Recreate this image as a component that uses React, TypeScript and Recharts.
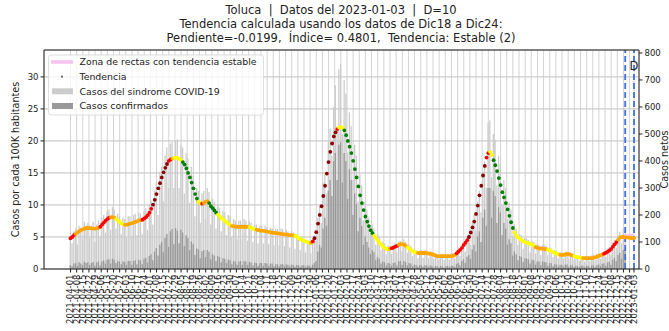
import React from 'react';
import {
  ComposedChart,
  Bar,
  Scatter,
  Line,
  XAxis,
  YAxis,
  CartesianGrid,
  ReferenceLine,
} from 'recharts';

const FONT = '"DejaVu Sans", Verdana, sans-serif';
const W = 669;
const H = 331;

// days counted from 2021-04-01, one row every 2 days
const START_UTC = Date.UTC(2021, 3, 1);
const STEP_DAYS = 2;
const CUT_DAY = 632; // 2022-12-24
const LAST_DAY = 642; // 2023-01-03
const X_DOMAIN: [number, number] = [-30.2, 647.7];
const LEFT_MAX = 34.2;
const RIGHT_MAX = 811;

const leftTicks = [0, 5, 10, 15, 20, 25, 30];
const rightTicks = [0, 100, 200, 300, 400, 500, 600, 700, 800];

// Tendencia (casos por cada 100K habitantes)
const trendValues = [
  4.8, 5.0, 5.3, 5.5, 5.7, 5.9, 6.1, 6.2, 6.3, 6.4,
  6.4, 6.4, 6.35, 6.3, 6.3, 6.35, 6.45, 6.6, 6.95, 7.25,
  7.55, 7.8, 8.0, 8.1, 8.1, 8.0, 7.8, 7.55, 7.35, 7.15,
  6.95, 6.9, 6.9, 7.0, 7.1, 7.15, 7.25, 7.35, 7.45, 7.6,
  7.6, 7.7, 7.9, 8.1, 8.4, 8.8, 9.4, 10.05, 10.8, 11.7,
  12.6, 13.4, 14.3, 15.1, 15.8, 16.4, 16.9, 17.1, 17.25, 17.35,
  17.4, 17.35, 17.2, 17.0, 16.7, 16.3, 15.7, 15.0, 14.3, 13.5,
  12.6, 11.7, 11.0, 10.5, 10.25, 10.2, 10.3, 10.5, 10.6, 10.3,
  9.8, 9.5, 9.15, 8.8, 8.5, 8.2, 7.95, 7.7, 7.5, 7.3,
  7.05, 6.85, 6.7, 6.7, 6.6, 6.6, 6.6, 6.6, 6.6, 6.6,
  6.6, 6.6, 6.55, 6.45, 6.3, 6.2, 6.15, 6.05, 6.0, 6.0,
  5.95, 5.9, 5.85, 5.8, 5.7, 5.7, 5.65, 5.6, 5.6, 5.5,
  5.5, 5.45, 5.4, 5.4, 5.3, 5.3, 5.3, 5.25, 5.15, 5.0,
  4.8, 4.65, 4.5, 4.4, 4.3, 4.2, 4.1, 4.1, 4.3, 4.8,
  5.75, 7.1, 8.45, 9.8, 11.4, 13.0, 14.9, 16.7, 18.3, 19.6,
  20.7, 21.35, 21.85, 22.1, 22.2, 22.0, 21.65, 20.9, 20.0, 19.1,
  18.1, 16.9, 15.6, 14.3, 12.9, 11.5, 10.3, 9.2, 8.2, 7.4,
  6.7, 6.05, 5.6, 5.2, 4.8, 4.45, 4.1, 3.8, 3.5, 3.3,
  3.15, 3.1, 3.15, 3.25, 3.35, 3.5, 3.6, 3.8, 3.9, 3.9,
  3.8, 3.6, 3.35, 3.2, 3.0, 2.8, 2.65, 2.55, 2.5, 2.5,
  2.5, 2.5, 2.5, 2.5, 2.4, 2.4, 2.3, 2.2, 2.1, 2.0,
  2.0, 2.0, 2.0, 2.0, 2.0, 2.0, 2.0, 2.0, 2.05, 2.2,
  2.45, 2.7, 3.0, 3.3, 3.75, 4.1, 4.5, 5.0, 5.7, 6.5,
  7.4, 8.6, 9.9, 11.5, 13.0, 14.6, 16.1, 17.4, 18.1, 18.3,
  17.8, 17.0, 16.2, 15.3, 14.2, 13.1, 12.0, 11.2, 10.3, 9.3,
  8.3, 7.3, 6.4, 5.7, 5.2, 4.9, 4.7, 4.5, 4.3, 4.2,
  4.1, 4.0, 3.9, 3.8, 3.6, 3.4, 3.3, 3.2, 3.2, 3.2,
  3.1, 3.1, 3.0, 2.9, 2.8, 2.6, 2.5, 2.4, 2.3, 2.2,
  2.2, 2.2, 2.3, 2.3, 2.3, 2.2, 2.1, 2.0, 1.9, 1.8,
  1.8, 1.7, 1.7, 1.7, 1.7, 1.7, 1.7, 1.7, 1.75, 1.85,
  1.95, 2.05, 2.15, 2.25, 2.4, 2.55, 2.7, 2.9, 3.15, 3.5,
  3.85, 4.2, 4.6, 4.9, 5.0, 5.0, 4.95, 4.9, 4.9, 4.85,
  4.8, 4.8,
];

// trend class per stretch: [last day of stretch, class]
const trendColorRuns: [number, string][] = [
  [4, 'R'], [32, 'O'], [44, 'R'], [50, 'O'], [60, 'Y'], [80, 'O'], [92, 'R'],
  [110, 'D'], [114, 'R'], [116, 'O'], [126, 'Y'], [144, 'G'], [148, 'Y'],
  [150, 'R'], [156, 'O'], [166, 'G'], [182, 'Y'], [202, 'O'], [210, 'Y'],
  [254, 'O'], [272, 'Y'], [274, 'O'], [276, 'R'], [302, 'D'], [304, 'R'],
  [310, 'Y'], [344, 'G'], [362, 'Y'], [364, 'O'], [372, 'R'], [382, 'O'],
  [394, 'Y'], [438, 'O'], [452, 'R'], [472, 'D'], [476, 'R'], [480, 'Y'],
  [504, 'G'], [528, 'Y'], [542, 'O'], [556, 'Y'], [572, 'O'], [582, 'Y'],
  [606, 'O'], [622, 'R'], [642, 'O'],
];

const trendColors: Record<string, string> = {
  R: '#ff0000',
  O: '#ffa500',
  Y: '#ffff00',
  G: '#008000',
  D: '#8b0000',
};

// Casos del sindrome COVID-19 (casos netos), days 0..632
const sindromeValues = [
  120, 95, 140, 150, 90, 160, 150, 110, 175, 160,
  170, 115, 160, 175, 100, 165, 180, 120, 190, 200,
  135, 215, 220, 145, 230, 220, 150, 205, 195, 130,
  190, 185, 115, 195, 195, 120, 200, 205, 125, 210,
  205, 130, 215, 225, 145, 240, 255, 165, 290, 320,
  200, 360, 380, 250, 420, 450, 300, 465, 470, 300,
  475, 480, 300, 460, 450, 280, 430, 410, 245, 380,
  345, 195, 300, 290, 170, 280, 290, 185, 300, 285,
  165, 260, 250, 150, 240, 225, 140, 215, 210, 125,
  200, 195, 120, 185, 180, 110, 180, 180, 110, 185,
  180, 105, 175, 170, 100, 165, 165, 95, 160, 160,
  95, 160, 155, 92, 152, 150, 88, 148, 148, 86,
  150, 148, 85, 145, 140, 80, 140, 135, 75, 130,
  120, 70, 118, 112, 62, 105, 100, 58, 110, 125,
  105, 190, 230, 170, 320, 350, 280, 480, 520, 420,
  600, 680, 520, 740, 760, 500, 700, 650, 430, 580,
  530, 330, 460, 420, 250, 350, 310, 180, 250, 220,
  190, 130, 165, 150, 90, 130, 120, 70, 100, 95,
  55, 88, 85, 55, 90, 95, 60, 100, 105, 65,
  110, 100, 60, 92, 85, 48, 75, 70, 40, 68,
  70, 42, 70, 68, 40, 66, 62, 36, 58, 55,
  34, 56, 56, 33, 55, 56, 34, 58, 60, 40,
  70, 75, 48, 90, 100, 65, 120, 130, 90, 170,
  200, 140, 250, 290, 210, 360, 400, 300, 540, 550,
  340, 500, 480, 310, 420, 390, 240, 330, 300, 185,
  245, 220, 120, 165, 150, 90, 130, 125, 75, 115,
  112, 108, 62, 105, 100, 58, 92, 90, 52, 90,
  88, 86, 52, 80, 76, 44, 70, 66, 40, 62,
  62, 40, 64, 64, 38, 60, 56, 34, 52, 50,
  30, 48, 48, 28, 48, 48, 30, 50, 52, 32,
  55, 58, 38, 62, 66, 44, 75, 80, 52, 98,
  108, 78, 125, 138, 95, 150, 145,
];

// Casos confirmados (casos netos), days 0..632
const confirmadosValues = [
  15, 10, 20, 22, 12, 25, 20, 14, 28, 22,
  25, 15, 22, 26, 12, 24, 28, 14, 28, 32,
  20, 34, 36, 20, 38, 34, 22, 30, 28, 18,
  28, 26, 15, 30, 30, 16, 30, 32, 18, 34,
  32, 18, 38, 42, 24, 48, 55, 32, 65, 78,
  50, 90, 100, 62, 115, 130, 82, 140, 148, 92,
  152, 142, 95, 145, 135, 85, 125, 115, 70, 102,
  92, 52, 76, 72, 40, 66, 70, 44, 70, 64,
  36, 55, 50, 30, 48, 44, 25, 40, 38, 22,
  35, 32, 18, 30, 28, 16, 28, 30, 15, 30,
  28, 14, 26, 24, 13, 24, 22, 12, 22, 22,
  12, 22, 20, 11, 20, 20, 10, 18, 18, 10,
  18, 18, 10, 17, 16, 9, 16, 15, 8, 15,
  14, 8, 14, 14, 7, 13, 13, 7, 16, 22,
  30, 65, 90, 80, 150, 190, 160, 290, 330, 270,
  400, 430, 330, 460, 470, 320, 430, 400, 260, 370,
  330, 200, 280, 240, 140, 190, 160, 90, 120, 100,
  80, 55, 70, 62, 32, 45, 38, 20, 28, 25,
  13, 22, 20, 12, 22, 24, 14, 28, 30, 16,
  30, 26, 14, 22, 20, 10, 17, 15, 8, 14,
  14, 8, 14, 13, 7, 13, 12, 6, 11, 10,
  6, 11, 10, 5, 10, 11, 6, 11, 12, 7,
  18, 22, 14, 30, 36, 22, 45, 52, 38, 72,
  90, 65, 120, 140, 100, 190, 220, 160, 300, 300,
  190, 290, 270, 170, 230, 210, 125, 170, 150, 90,
  110, 95, 50, 65, 55, 32, 48, 45, 26, 40,
  38, 36, 20, 34, 32, 16, 28, 28, 14, 28,
  26, 25, 12, 22, 21, 10, 18, 17, 8, 16,
  16, 9, 17, 17, 8, 15, 14, 7, 12, 12,
  6, 12, 12, 6, 12, 12, 6, 13, 14, 7,
  15, 17, 10, 19, 21, 12, 24, 27, 16, 34,
  42, 30, 52, 60, 38, 70, 75,
];

// Zona de rectas con tendencia estable, days 632..642
const zonaDays = [632, 634, 636, 638, 640, 642];
const zonaValues = [5.1, 5.1, 5.2, 5.2, 5.2, 5.3];

const dayLabel = (day: number) =>
  new Date(START_UTC + day * 86400000).toISOString().slice(0, 10);

const xTicks: number[] = [];
for (let d = 0; d <= LAST_DAY; d += 7) xTicks.push(d);
xTicks.push(LAST_DAY);

const colorAt = (day: number) => {
  for (const [end, c] of trendColorRuns) if (day <= end) return c;
  return 'O';
};

const data = trendValues.map((t, i) => {
  const day = i * STEP_DAYS;
  const zi = zonaDays.indexOf(day);
  return {
    day,
    trend: t,
    cls: colorAt(day),
    sind: i < sindromeValues.length ? sindromeValues[i] : null,
    conf: i < confirmadosValues.length ? confirmadosValues[i] : null,
    zona: zi >= 0 ? zonaValues[zi] : null,
  };
});

const XTick = (props: any) => {
  const { x, y, payload } = props;
  return (
    <text
      x={x}
      y={y}
      transform={`rotate(-90 ${x} ${y})`}
      textAnchor="end"
      dy="0.34em"
      fontSize={8.5}
      fontFamily={FONT}
      fill="#222"
    >
      {dayLabel(payload.value)}
    </text>
  );
};

const TrendDot = (props: any) => {
  const { cx, cy, payload } = props;
  if (cx == null || cy == null) return <g />;
  return <circle cx={cx} cy={cy} r={1.9} fill={trendColors[payload.cls]} />;
};

const tickStyle = { fontSize: 8.5, fill: '#222', fontFamily: FONT };

export default function App() {
  return (
    <div
      style={{
        position: 'absolute',
        left: 0,
        top: 0,
        width: W,
        height: H,
        background: '#fff',
        fontFamily: FONT,
      }}
    >
      <ComposedChart
        width={W}
        height={H}
        data={data}
        margin={{ top: 50, right: 0, bottom: 7, left: 14 }}
        barGap={-1.3}
      >
        <CartesianGrid yAxisId="left" vertical={false} stroke="#b0b0b0" strokeWidth={0.8} />
        <CartesianGrid yAxisId="left" horizontal={false} stroke="#c8c8c8" strokeWidth={0.8} />
        <XAxis
          dataKey="day"
          type="number"
          domain={X_DOMAIN}
          ticks={xTicks}
          interval={0}
          height={55}
          tick={<XTick />}
          tickSize={3.5}
          tickMargin={2}
          stroke="#222"
        />
        <YAxis
          yAxisId="left"
          type="number"
          domain={[0, LEFT_MAX]}
          ticks={leftTicks}
          width={30}
          tick={tickStyle}
          tickSize={3.5}
          tickMargin={2}
          stroke="#222"
        />
        <YAxis
          yAxisId="right"
          orientation="right"
          type="number"
          domain={[0, RIGHT_MAX]}
          ticks={rightTicks}
          width={30}
          tick={{ ...tickStyle, textAnchor: 'start' }}
          tickSize={3.5}
          tickMargin={2}
          stroke="#222"
        />
        <Bar
          yAxisId="right"
          dataKey="sind"
          fill="#cccccc"
          barSize={1.3}
          isAnimationActive={false}
        />
        <Bar
          yAxisId="right"
          dataKey="conf"
          fill="#999999"
          barSize={1.3}
          isAnimationActive={false}
        />
        <Scatter
          yAxisId="left"
          dataKey="trend"
          shape={<TrendDot />}
          isAnimationActive={false}
        />
        <Line
          yAxisId="left"
          dataKey="zona"
          stroke="#f6c3ef"
          strokeWidth={4}
          dot={false}
          connectNulls={false}
          isAnimationActive={false}
        />
        <ReferenceLine
          yAxisId="left"
          x={CUT_DAY}
          stroke="#3f6fe0"
          strokeWidth={1.8}
          strokeDasharray="6 3"
        />
        <ReferenceLine
          yAxisId="left"
          x={LAST_DAY}
          stroke="#3f6fe0"
          strokeWidth={1.8}
          strokeDasharray="6 3"
          label={{ value: 'D', position: 'insideTop', offset: 12, fontSize: 11.5, fill: '#222', fontFamily: FONT }}
        />
        <ReferenceLine yAxisId="left" y={LEFT_MAX} stroke="#222" />
      </ComposedChart>

      <svg
        width={W}
        height={H}
        style={{ position: 'absolute', left: 0, top: 0, pointerEvents: 'none' }}
        fontFamily={FONT}
      >
        <g fontSize={11.5} fill="#222" textAnchor="middle">
          <text x={341} y={14} xmlSpace="preserve">Toluca  |  Datos del 2023-01-03  |  D=10</text>
          <text x={341} y={28} xmlSpace="preserve">Tendencia calculada usando los datos de Dic18 a Dic24:</text>
          <text x={341} y={42} xmlSpace="preserve">Pendiente=-0.0199,  Índice= 0.4801,  Tendencia: Estable (2)</text>
        </g>

        <text
          x={18.5}
          y={159.5}
          transform="rotate(-90 18.5 159.5)"
          textAnchor="middle"
          fontSize={9.6}
          fill="#222"
        >
          Casos por cada 100K habitantes
        </text>
        <text
          x={668}
          y={159.5}
          transform="rotate(-90 668 159.5)"
          textAnchor="middle"
          fontSize={9.6}
          fill="#222"
        >
          Casos netos
        </text>

        <g>
          <rect x={48.5} y={55} width={215} height={60} rx={2.5} fill="#fff" fillOpacity={0.8} stroke="#d6d6d6" strokeWidth={0.8} />
          <line x1={51} y1={62} x2={73} y2={62} stroke="#f6c3ef" strokeWidth={3.5} />
          <circle cx={62} cy={76.7} r={1.1} fill="#666" />
          <rect x={52} y={88.3} width={21} height={6} fill="#cccccc" />
          <rect x={52} y={103} width={21} height={6} fill="#999999" />
          <g fontSize={9.4} fill="#222">
            <text x={79.5} y={65.4}>Zona de rectas con tendencia estable</text>
            <text x={79.5} y={80.1}>Tendencia</text>
            <text x={79.5} y={94.7}>Casos del sindrome COVID-19</text>
            <text x={79.5} y={109.4}>Casos confirmados</text>
          </g>
        </g>
      </svg>
    </div>
  );
}
